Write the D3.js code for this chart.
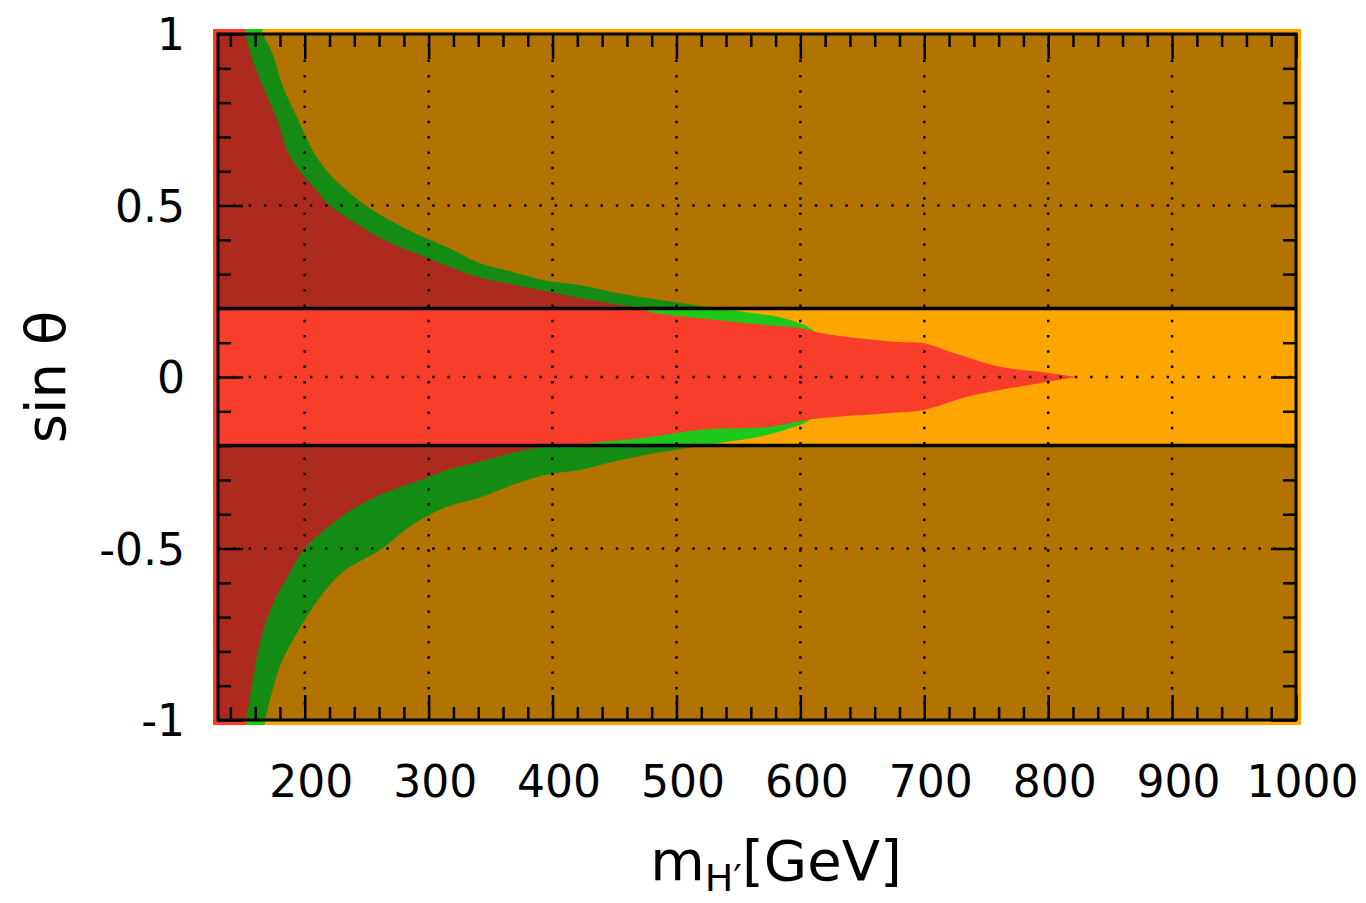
<!DOCTYPE html>
<html>
<head>
<meta charset="utf-8">
<script src="https://cdn.jsdelivr.net/npm/d3@7"></script>
<style>
  body { margin: 0; background: #fff; }
  svg { display: block; font-family: "DejaVu Sans", sans-serif; }
</style>
</head>
<body>
<svg id="chart" width="1366" height="903"></svg>
<script>
// boundary of the red (allowed) region, upper half: sin(theta) -> m_H' [GeV]
const redUpperS = [1.0, 0.943, 0.85, 0.748, 0.65, 0.6, 0.55, 0.5, 0.477, 0.428, 0.405, 0.378, 0.35, 0.32, 0.29, 0.27, 0.25, 0.23, 0.213, 0.204, 0.189, 0.169, 0.151, 0.143, 0.128, 0.116, 0.102, 0.099, 0.073, 0.055, 0.03, 0.015, 0];
const redUpperM = [152, 156, 166, 178, 187, 196, 208, 220, 229, 250, 261, 277, 297, 318, 341, 368, 395, 422, 449, 465, 479, 525, 573, 600, 616, 640, 680, 699, 721, 737, 761, 793, 822];
// lower half
const redLowerS = [0, -0.018, -0.038, -0.058, -0.096, -0.105, -0.116, -0.125, -0.146, -0.154, -0.175, -0.193, -0.207, -0.221, -0.247, -0.271, -0.309, -0.343, -0.396, -0.504, -0.571, -0.649, -0.745, -0.844, -1.0];
const redLowerM = [822, 793, 761, 734, 699, 672, 630, 605, 573, 519, 479, 430, 387, 368, 341, 315, 287, 261, 234, 199, 188, 176, 166, 160, 153];

// outer edge of the green band
const greenUpperS = [1.0, 0.943, 0.85, 0.748, 0.65, 0.6, 0.55, 0.5, 0.428, 0.378, 0.332, 0.306, 0.282, 0.268, 0.247, 0.23, 0.216, 0.207, 0.189, 0.172, 0.137, 0.12, 0];
const greenUpperM = [166, 174, 182, 195, 208, 218, 232, 249, 284, 315, 341, 368, 393, 422, 449, 476, 503, 521, 557, 586, 610, 612, 600];
const greenLowerS = [0, -0.12, -0.125, -0.169, -0.193, -0.21, -0.227, -0.247, -0.271, -0.285, -0.314, -0.352, -0.378, -0.431, -0.504, -0.571, -0.649, -0.745, -0.844, -1.0];
const greenLowerM = [600, 605, 607, 573, 533, 503, 476, 449, 422, 395, 368, 341, 315, 287, 261, 230, 211, 194, 180, 168];

const bandLimit = 0.2;
const xTicks = [200, 300, 400, 500, 600, 700, 800, 900, 1000];
const yTicks = [-1, -0.5, 0, 0.5, 1];
const yTickLabels = ["-1", "-0.5", "0", "0.5", "1"];

const colors = {
  orange: "#ffa500",
  red: "#f83e2b",
  green: "#1ec81a"
};

const svg = d3.select("#chart");
const margin = { left: 218, right: 70, top: 34, bottom: 183 };
const W = 1366, H = 903;

const x = d3.scaleLinear().domain([130, 1000]).range([margin.left, W - margin.right]);
const y = d3.scaleLinear().domain([-1, 1]).range([H - margin.bottom, margin.top]);

const [x0, x1] = x.range();
const [y0, y1] = [y(1), y(-1)];
const spill = 5;

svg.append("defs").append("clipPath").attr("id", "spillClip")
  .append("rect")
  .attr("x", x0 - spill).attr("y", y0 - spill)
  .attr("width", x1 - x0 + 2 * spill).attr("height", y1 - y0 + 2 * spill);

const regions = svg.append("g").attr("clip-path", "url(#spillClip)");

regions.append("rect")
  .attr("x", x0 - spill).attr("y", y0 - spill)
  .attr("width", x1 - x0 + 2 * spill).attr("height", y1 - y0 + 2 * spill)
  .attr("fill", colors.orange);

// region left of the boundary curve, closed along the left edge past the frame
function regionPath(upS, upM, loS, loM) {
  const pts = [];
  upS.forEach((s, i) => pts.push([x(upM[i]), y(s)]));
  loS.forEach((s, i) => pts.push([x(loM[i]), y(s)]));
  const first = pts[0], last = pts[pts.length - 1];
  const pad = spill + 3;
  const curve = d3.line().curve(d3.curveCatmullRom.alpha(0.5))(pts);
  return `M${first[0]},${first[1] - pad}L` + curve.slice(1) +
    `L${last[0]},${last[1] + pad}L${x0 - pad},${y1 + pad}L${x0 - pad},${y0 - pad}Z`;
}

regions.append("path")
  .attr("d", regionPath(greenUpperS, greenUpperM, greenLowerS, greenLowerM))
  .attr("fill", colors.green);

regions.append("path")
  .attr("d", regionPath(redUpperS, redUpperM, redLowerS, redLowerM))
  .attr("fill", colors.red);

// shade outside |sin theta| < 0.2
const shade = svg.append("g").attr("fill", "#000").attr("fill-opacity", 0.3);
shade.append("rect")
  .attr("x", x0).attr("y", y(1))
  .attr("width", x1 - x0).attr("height", y(bandLimit) - y(1));
shade.append("rect")
  .attr("x", x0).attr("y", y(-bandLimit))
  .attr("width", x1 - x0).attr("height", y(-1) - y(-bandLimit));

// dotted grid
const grid = svg.append("g")
  .attr("stroke", "#000").attr("stroke-width", 2.5)
  .attr("stroke-dasharray", "2.5,12.8");
grid.selectAll("line.gx")
  .data(xTicks.filter(d => d < 1000))
  .join("line")
  .attr("x1", d => x(d)).attr("x2", d => x(d))
  .attr("y1", y1).attr("y2", y0);
grid.selectAll("line.gy")
  .data(yTicks.filter(d => Math.abs(d) < 1))
  .join("line")
  .attr("x1", x0).attr("x2", x1)
  .attr("y1", d => y(d)).attr("y2", d => y(d));

// band limits
svg.append("g")
  .attr("stroke", "#000").attr("stroke-width", 3.5)
  .selectAll("line")
  .data([bandLimit, -bandLimit])
  .join("line")
  .attr("x1", x0).attr("x2", x1)
  .attr("y1", d => y(d)).attr("y2", d => y(d));

// axes with inward ticks on all four sides
const xMinor = d3.range(140, 1000, 20).filter(d => d % 100 !== 0);
const yMinor = d3.range(-9, 10).filter(d => d % 5 !== 0).map(d => d / 10);

function styleAxis(g) {
  g.select(".domain").remove();
  g.selectAll(".tick line").attr("stroke", "#000").attr("stroke-width", 2.5);
  g.selectAll(".tick text")
    .attr("fill", "#000")
    .attr("font-family", "DejaVu Sans, sans-serif")
    .attr("font-size", 44);
}

const fmtY = d => yTickLabels[yTicks.indexOf(d)];

svg.append("g").attr("transform", `translate(0,${y1})`)
  .call(d3.axisBottom(x).tickValues(xTicks).tickSize(-25).tickPadding(46).tickFormat(d3.format("d")))
  .call(styleAxis)
  .call(g => g.selectAll(".tick text").attr("dx", 6));
svg.append("g").attr("transform", `translate(0,${y1})`)
  .call(d3.axisBottom(x).tickValues(xMinor).tickSize(-13).tickFormat(""))
  .call(styleAxis);
svg.append("g").attr("transform", `translate(0,${y0})`)
  .call(d3.axisTop(x).tickValues(xTicks).tickSize(-25).tickFormat(""))
  .call(styleAxis);
svg.append("g").attr("transform", `translate(0,${y0})`)
  .call(d3.axisTop(x).tickValues(xMinor).tickSize(-13).tickFormat(""))
  .call(styleAxis);

svg.append("g").attr("transform", `translate(${x0},0)`)
  .call(d3.axisLeft(y).tickValues(yTicks).tickSize(-25).tickPadding(33).tickFormat(fmtY))
  .call(styleAxis)
  .call(g => g.selectAll(".tick text").attr("dy", "0.36em"));
svg.append("g").attr("transform", `translate(${x0},0)`)
  .call(d3.axisLeft(y).tickValues(yMinor).tickSize(-13).tickFormat(""))
  .call(styleAxis);
svg.append("g").attr("transform", `translate(${x1},0)`)
  .call(d3.axisRight(y).tickValues(yTicks).tickSize(-25).tickFormat(""))
  .call(styleAxis);
svg.append("g").attr("transform", `translate(${x1},0)`)
  .call(d3.axisRight(y).tickValues(yMinor).tickSize(-13).tickFormat(""))
  .call(styleAxis);

// frame
svg.append("rect")
  .attr("x", x0).attr("y", y0)
  .attr("width", x1 - x0).attr("height", y1 - y0)
  .attr("fill", "none").attr("stroke", "#000").attr("stroke-width", 3);

// axis titles
const xt = svg.append("text")
  .attr("x", 776).attr("y", 880)
  .attr("text-anchor", "middle")
  .attr("font-size", 56);
xt.append("tspan").text("m");
xt.append("tspan").attr("font-size", 38).attr("dy", 11).text("H′");
xt.append("tspan").attr("dy", -11).text("[GeV]");

svg.append("text")
  .attr("transform", `translate(65,${y(0)}) rotate(-90)`)
  .attr("text-anchor", "middle")
  .attr("font-size", 56)
  .text("sin θ");
</script>
</body>
</html>
